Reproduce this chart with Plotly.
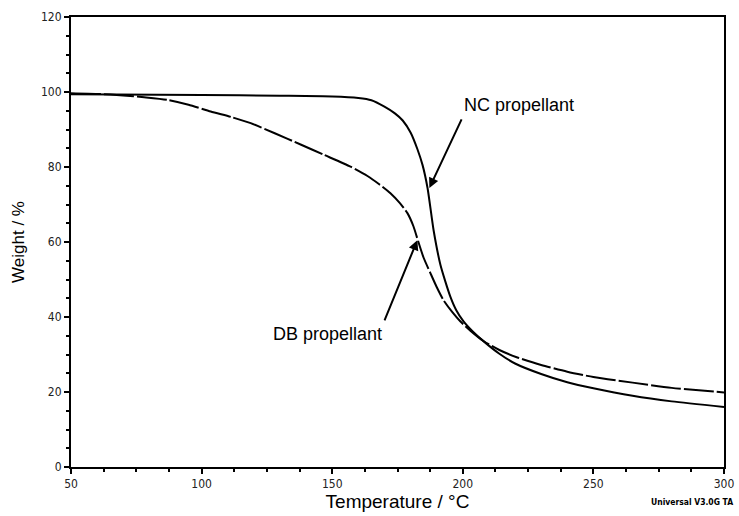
import plotly.graph_objects as go

# TGA curves: temperature (°C) vs. residual weight (%)
nc_temp = [50, 100, 130, 150, 160, 165, 170, 174, 177, 180, 182.6, 184.6, 186.5, 188.8,
           191.4, 193.3, 195.3, 197.5, 200.2, 204, 208, 214, 220, 230, 240, 250, 265, 280, 300]
nc_weight = [99.4, 99.2, 99.0, 98.8, 98.4, 97.8, 96.1, 94.3, 92.4, 89.2, 84.8, 80.5, 74.4, 63.2,
             54.0, 49.5, 45.3, 41.8, 38.9, 36.0, 33.5, 30.2, 27.6, 24.8, 22.6, 21.0, 19.0, 17.5, 16.0]

db_temp = [50, 60, 70, 78, 87, 95, 103.5, 112, 118.8, 128, 137.9, 147, 157, 163.5, 168,
           172.3, 176, 178.8, 181.1, 183, 185, 187.6, 190, 192.6, 196, 199.1, 203, 207.9,
           214, 220.9, 230, 240, 250, 265, 280, 300]
db_weight = [99.7, 99.5, 99.1, 98.6, 97.9, 96.6, 94.8, 93.2, 91.7, 89.0, 86.0, 83.2, 80.1, 77.6, 75.4,
             73.0, 70.3, 67.7, 64.2, 60.0, 55.8, 51.7, 48.0, 44.5, 41.3, 38.8, 36.3, 33.6,
             31.2, 29.2, 27.2, 25.4, 24.0, 22.5, 21.1, 19.9]

x_ticks = [50, 100, 150, 200, 250, 300]
y_ticks = [0, 20, 40, 60, 80, 100, 120]

fig = go.Figure()
fig.add_trace(go.Scatter(x=nc_temp, y=nc_weight, mode="lines",
                         line=dict(color="black", width=2, shape="spline", smoothing=0.6),
                         name="NC propellant"))
fig.add_trace(go.Scatter(x=db_temp, y=db_weight, mode="lines",
                         line=dict(color="black", width=2, shape="spline", smoothing=0.6,
                                   dash="30px,3px"),
                         name="DB propellant"))

tick_font = dict(family="DejaVu Sans Condensed, Arial", size=12, color="#222")
axis_common = dict(ticks="outside", ticklen=5, tickwidth=1.5, tickcolor="black",
                   showline=True, linecolor="black", linewidth=2, mirror=True,
                   showgrid=False, zeroline=False, tickfont=tick_font, automargin=False)

fig.update_xaxes(range=[50, 300], tickvals=x_ticks, **axis_common,
                 minor=dict(dtick=12.5, ticks="outside", ticklen=3, tickwidth=2, tickcolor="black"),
                 title=dict(text="Temperature / °C",
                            font=dict(family="Liberation Sans, Arial", size=19, color="black"),
                            standoff=0))
fig.update_yaxes(range=[0, 120], tickvals=y_ticks, **axis_common,
                 minor=dict(dtick=5, ticks="outside", ticklen=3, tickwidth=2, tickcolor="black"),
                 title=dict(text="Weight / %",
                            font=dict(family="Liberation Sans Narrow, Arial", size=17, color="black"),
                            standoff=12))

label_font = dict(family="Liberation Sans, Arial", size=18, color="black")
fig.add_annotation(x=187.2, y=74.4, ax=199.8, ay=93.1, axref="x", ayref="y",
                   showarrow=True, arrowhead=2, arrowsize=1, arrowwidth=2, arrowcolor="black",
                   text="")
fig.add_annotation(x=199.8, y=96.5, text="NC propellant", showarrow=False, xanchor="left",
                   yanchor="middle", font=label_font)
fig.add_annotation(x=182.6, y=60.5, ax=169.8, ay=38.7, axref="x", ayref="y",
                   showarrow=True, arrowhead=2, arrowsize=1, arrowwidth=2, arrowcolor="black",
                   text="")
fig.add_annotation(x=169.8, y=35.6, text="DB propellant", showarrow=False, xanchor="right",
                   yanchor="middle", font=label_font)
fig.add_annotation(x=1.017, y=-0.063, xref="paper", yref="paper", text="<b>Universal V3.0G TA</b>",
                   showarrow=False, xanchor="right", yanchor="top",
                   font=dict(family="DejaVu Sans Condensed, Arial", size=8.5, color="black"))

fig.update_layout(width=739, height=516, margin=dict(l=71, r=15, t=17, b=49),
                  paper_bgcolor="white", plot_bgcolor="white", showlegend=False)

fig.write_html("out.html")
